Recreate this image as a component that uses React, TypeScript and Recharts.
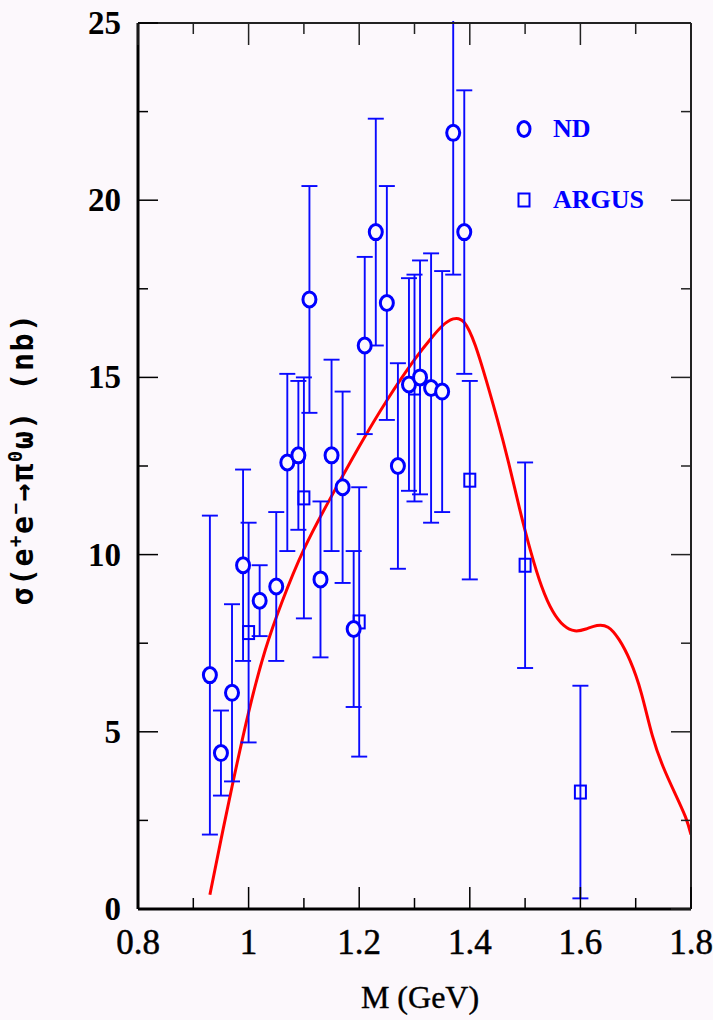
import React from "react";
import { ComposedChart, Scatter, Line, XAxis, YAxis, ErrorBar } from "recharts";

// ND data (circles)
const ndMass = [0.93, 0.95, 0.97, 0.99, 1.02, 1.05, 1.07, 1.09, 1.11, 1.13, 1.15, 1.17, 1.19, 1.21, 1.23, 1.25, 1.27, 1.29, 1.31, 1.33, 1.35, 1.37, 1.39];
const ndSigma = [6.6, 4.4, 6.1, 9.7, 8.7, 9.1, 12.6, 12.8, 17.2, 9.3, 12.8, 11.9, 7.9, 15.9, 19.1, 17.1, 12.5, 14.8, 15.0, 14.7, 14.6, 21.9, 19.1];
const ndError = [4.5, 1.2, 2.5, 2.7, 1.0, 2.1, 2.5, 2.1, 3.2, 2.2, 2.7, 2.7, 2.2, 2.5, 3.2, 3.3, 2.9, 3.0, 3.3, 3.8, 3.4, 4.0, 4.0];

// ARGUS data (squares)
const argusMass = [1.0, 1.1, 1.2, 1.3, 1.4, 1.5, 1.6];
const argusSigma = [7.8, 11.6, 8.1, 14.7, 12.1, 9.7, 3.3];
const argusError = [3.1, 3.4, 3.8, 3.2, 2.8, 2.9, 3.0];

// fit curve (red)
const fitMass = [0.93, 0.95, 0.97, 1.0, 1.03, 1.06, 1.1, 1.15, 1.2, 1.25, 1.3, 1.33, 1.35, 1.37, 1.39, 1.41, 1.43, 1.45, 1.47, 1.49, 1.51, 1.53, 1.55, 1.57, 1.59, 1.61, 1.63, 1.65, 1.67, 1.69, 1.71, 1.73, 1.75, 1.77, 1.79, 1.8];
const fitSigma = [0.4, 1.95, 3.45, 5.55, 7.3, 8.65, 10.15, 11.65, 13.05, 14.35, 15.5, 16.1, 16.45, 16.65, 16.55, 15.9, 14.9, 13.8, 12.6, 11.3, 10.1, 9.1, 8.4, 8.0, 7.85, 7.9, 8.0, 7.95, 7.6, 7.0, 6.1, 4.9, 4.0, 3.3, 2.6, 2.1];

const xTicks = [0.8, 0.9, 1, 1.1, 1.2, 1.3, 1.4, 1.5, 1.6, 1.7, 1.8];
const yTicks = [0, 2.5, 5, 7.5, 10, 12.5, 15, 17.5, 20, 22.5, 25];

const BG = "#fcf8fc";
const BLUE = "#0000ff";
const BAR = "#0a0aff";

const ndData = ndMass.map((m, i) => ({ m, s: ndSigma[i], err: ndError[i] }));
const argusData = argusMass.map((m, i) => ({ m, s: argusSigma[i], err: argusError[i] }));
const fitData = fitMass.map((m, i) => ({ m, s: fitSigma[i] }));

const majorX = (v: number) => Math.round(v * 10) % 2 === 0;
const majorY = (v: number) => v % 5 === 0;
const fmtX = (v: number) => String(Math.round(v * 10) / 10);

function BottomTick({ x, y, payload }: any) {
  const major = majorX(payload.value);
  return (
    <g>
      <line x1={x} x2={x} y1={y} y2={y - (major ? 22 : 11)} stroke="#000" strokeWidth={1.5} />
      {major && (
        <text x={x} y={y + 45} textAnchor="middle" fontFamily="Liberation Serif" fontSize={35} stroke="#000" strokeWidth={0.5} fill="#000">
          {fmtX(payload.value)}
        </text>
      )}
    </g>
  );
}

function TopTick({ x, y, payload }: any) {
  const major = majorX(payload.value);
  return <line x1={x} x2={x} y1={y} y2={y + (major ? 22 : 11)} stroke="#222" strokeWidth={1.5} />;
}

function LeftTick({ x, y, payload }: any) {
  const major = majorY(payload.value);
  return (
    <g>
      <line x1={x} x2={x + (major ? 20 : 10)} y1={y} y2={y} stroke="#000" strokeWidth={1.5} />
      {major && (
        <text x={x - 17} y={y + 11} textAnchor="end" fontFamily="Liberation Serif" fontWeight="bold" fontSize={33} fill="#000">
          {payload.value}
        </text>
      )}
    </g>
  );
}

function RightTick({ x, y, payload }: any) {
  const major = majorY(payload.value);
  return <line x1={x} x2={x - (major ? 20 : 10)} y1={y} y2={y} stroke="#222" strokeWidth={1.5} />;
}

const Circle = (p: any) => (
  <ellipse cx={p.cx} cy={p.cy} rx={6.5} ry={7.5} fill={BG} stroke={BLUE} strokeWidth={3} />
);
const Square = (p: any) => (
  <rect x={p.cx - 5.5} y={p.cy - 6.5} width={11} height={13} fill="none" stroke={BLUE} strokeWidth={2} />
);

const YTitle = () => (
  <text
    transform="translate(33, 459) rotate(-90)"
    textAnchor="middle"
    fontFamily="DejaVu Sans Mono"
    fontWeight="bold"
    fontSize={30}
    letterSpacing={1.5}
    fill="#000"
  >
    σ(e<tspan dy={-11} fontSize={19}>+</tspan>
    <tspan dy={11}>e</tspan>
    <tspan dy={-11} fontSize={19}>−</tspan>
    <tspan dy={11}>→π</tspan>
    <tspan dy={-11} fontSize={19}>0</tspan>
    <tspan dy={11}>ω) (nb)</tspan>
  </text>
);

const XTitle = () => (
  <text x={420} y={1008} textAnchor="middle" fontFamily="Liberation Serif" fontSize={32} stroke="#000" strokeWidth={0.4} fill="#000">
    M (GeV)
  </text>
);

export default function App() {
  return (
    <div style={{ position: "absolute", left: 0, top: 0, width: 713, height: 1020, background: BG }}>
      <ComposedChart width={713} height={1020} margin={{ top: 22, right: 21, bottom: 110, left: 137 }}>
        <XAxis
          xAxisId="b"
          type="number"
          dataKey="m"
          domain={[0.8, 1.8]}
          allowDataOverflow
          ticks={xTicks}
          interval={0}
          height={1}
          tickSize={0}
          tickMargin={0}
          tickLine={false}
          tick={<BottomTick />}
          axisLine={{ stroke: "#000", strokeWidth: 3 }}
          label={<XTitle />}
        />
        <XAxis
          xAxisId="t"
          orientation="top"
          type="number"
          dataKey="m"
          domain={[0.8, 1.8]}
          allowDataOverflow
          ticks={xTicks}
          interval={0}
          height={1}
          tickSize={0}
          tickMargin={0}
          tickLine={false}
          tick={<TopTick />}
          axisLine={{ stroke: "#222", strokeWidth: 2 }}
        />
        <YAxis
          yAxisId="l"
          type="number"
          domain={[0, 25]}
          allowDataOverflow
          ticks={yTicks}
          interval={0}
          width={1}
          tickSize={0}
          tickMargin={0}
          tickLine={false}
          tick={<LeftTick />}
          axisLine={{ stroke: "#000", strokeWidth: 3 }}
          label={<YTitle />}
        />
        <YAxis
          yAxisId="r"
          orientation="right"
          type="number"
          domain={[0, 25]}
          allowDataOverflow
          ticks={yTicks}
          interval={0}
          width={1}
          tickSize={0}
          tickMargin={0}
          tickLine={false}
          tick={<RightTick />}
          axisLine={{ stroke: "#222", strokeWidth: 2 }}
        />
        <Line
          xAxisId="b"
          yAxisId="l"
          data={fitData}
          dataKey="s"
          type="natural"
          stroke="#ff0000"
          strokeWidth={3}
          dot={false}
          isAnimationActive={false}
        />
        <Scatter xAxisId="b" yAxisId="l" data={argusData} dataKey="s" shape={Square} isAnimationActive={false}>
          <ErrorBar dataKey="err" direction="y" width={8} stroke={BAR} strokeWidth={1.9} isAnimationActive={false} />
        </Scatter>
        <Scatter xAxisId="b" yAxisId="l" data={ndData} dataKey="s" shape={Circle} isAnimationActive={false}>
          <ErrorBar dataKey="err" direction="y" width={8} stroke={BAR} strokeWidth={1.9} isAnimationActive={false} />
        </Scatter>
      </ComposedChart>
      {/* hides the part of the 1.37 GeV error bar that runs past the top frame */}
      <div style={{ position: "absolute", left: 130, top: 0, width: 570, height: 21, background: BG }} />
      <div style={{ position: "absolute", left: 514, top: 113, fontFamily: "Liberation Serif", fontWeight: "bold", fontSize: 26, color: BLUE }}>
        <div style={{ display: "flex", alignItems: "center", height: 32 }}>
          <svg width={20} height={20}>
            <ellipse cx={10} cy={10} rx={6} ry={7.5} fill="none" stroke={BLUE} strokeWidth={3} />
          </svg>
          <span style={{ marginLeft: 19 }}>ND</span>
        </div>
        <div style={{ display: "flex", alignItems: "center", height: 32, marginTop: 39 }}>
          <svg width={20} height={20}>
            <rect x={4.5} y={3.5} width={11} height={13} fill="none" stroke={BLUE} strokeWidth={2} />
          </svg>
          <span style={{ marginLeft: 19 }}>ARGUS</span>
        </div>
      </div>
    </div>
  );
}
